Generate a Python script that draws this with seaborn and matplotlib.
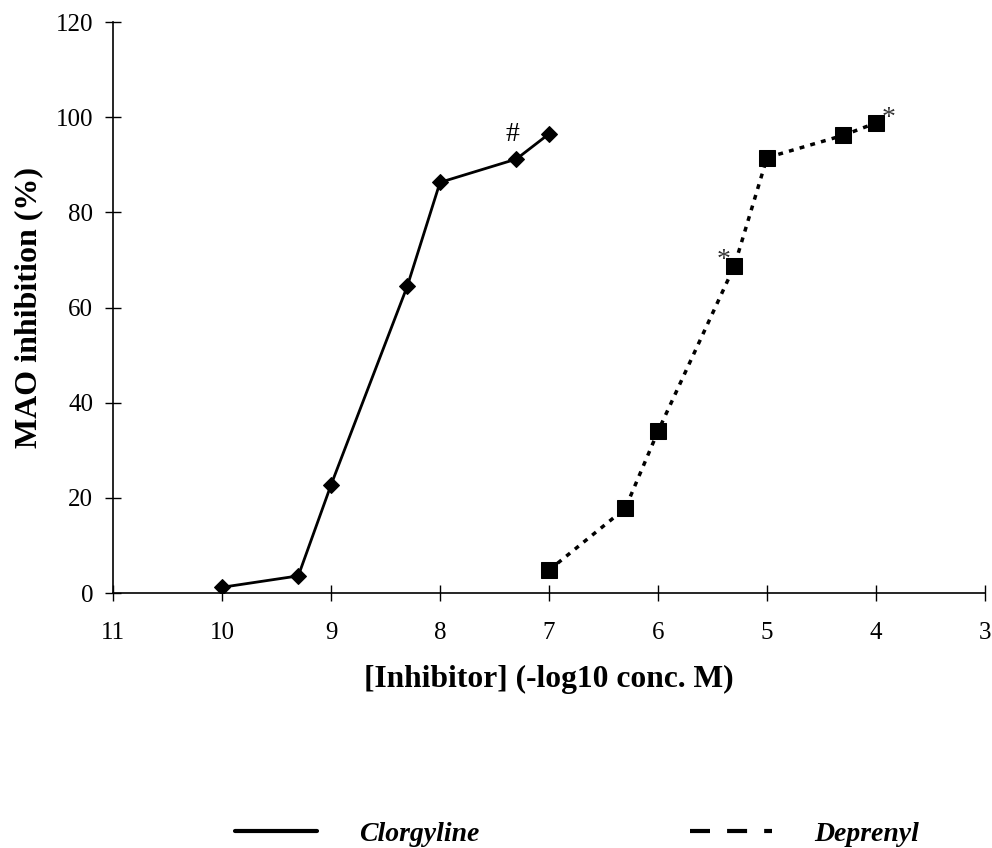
import matplotlib
matplotlib.use("Agg")
import matplotlib.pyplot as plt
import seaborn as sns
import pandas as pd
from matplotlib.lines import Line2D

clor_x = [10, 9.3, 9, 8.3, 8, 7.3, 7]
clor_y = [1.2, 3.6, 22.7, 64.5, 86.3, 91.2, 96.5]
depr_x = [7, 6.3, 6, 5.3, 5, 4.3, 4]
depr_y = [4.8, 17.8, 34.0, 68.7, 91.5, 96.2, 98.8]
x_ticks = [11, 10, 9, 8, 7, 6, 5, 4, 3]
y_ticks = [0, 20, 40, 60, 80, 100, 120]

sns.set_style("white")
plt.rcParams['font.family'] = ['Liberation Serif', 'DejaVu Serif']
plt.rcParams['text.color'] = 'black'
plt.rcParams['axes.labelcolor'] = 'black'
plt.rcParams['xtick.color'] = 'black'
plt.rcParams['ytick.color'] = 'black'

fig = plt.figure(figsize=(9.92, 8.48), dpi=100)
ax = fig.add_axes([0.1139, 0.3007, 0.993 - 0.1139, 0.974 - 0.3007])

df_c = pd.DataFrame({"x": clor_x, "y": clor_y})
df_d = pd.DataFrame({"x": depr_x, "y": depr_y})
sns.lineplot(data=df_c, x="x", y="y", ax=ax, color="black", lw=2,
             marker="D", markersize=8, markeredgecolor="black", sort=False)
sns.lineplot(data=df_d, x="x", y="y", ax=ax, color="black", lw=2.5,
             linestyle=(0, (1.4, 1.8)), marker="s", markersize=11,
             markeredgecolor="black", sort=False)

ax.set_xlim(11, 3)
ax.set_ylim(0, 120)
ax.set_xticks(x_ticks)
ax.set_yticks(y_ticks)
ax.tick_params(bottom=True, left=True, direction="inout", length=11.5, width=1,
               labelsize=18, color="black", labelcolor="black")
ax.tick_params(axis="x", pad=15)
ax.tick_params(axis="y", pad=8.6)
for s in ["top", "right"]:
    ax.spines[s].set_visible(False)
for s in ["left", "bottom"]:
    ax.spines[s].set_color("black")
    ax.spines[s].set_linewidth(1.2)
ax.set_xlabel("[Inhibitor] (-log10 conc. M)", fontsize=22.7, fontweight="bold", labelpad=15)
ax.set_ylabel("MAO inhibition (%)", fontsize=23, fontweight="bold", labelpad=9)

ax.annotate("#", (7.3, 91.2), xytext=(-3, 17.5), textcoords="offset points",
            fontsize=20, ha="center", va="center")
ax.annotate("*", (5.3, 68.7), xytext=(-8, 4), textcoords="offset points",
            fontsize=20, ha="center", va="center", color="#333333")
ax.annotate("*", (4, 98.8), xytext=(9, 3), textcoords="offset points",
            fontsize=20, ha="center", va="center", color="#333333")

handles = [Line2D([], [], color="black", lw=3, linestyle="-"),
           Line2D([], [], color="black", lw=3, linestyle=(0, (4.8, 4.1)))]
leg = fig.legend(handles, ["Clorgyline", "Deprenyl"], loc="center left",
                 bbox_to_anchor=(235 / 992, 1 - 834 / 848), ncol=2, frameon=False,
                 borderpad=0, borderaxespad=0,
                 handlelength=2.95, handletextpad=1.5, columnspacing=7.6,
                 prop={"size": 20, "weight": "bold", "style": "italic"})

fig.savefig("out.png", dpi=100)
